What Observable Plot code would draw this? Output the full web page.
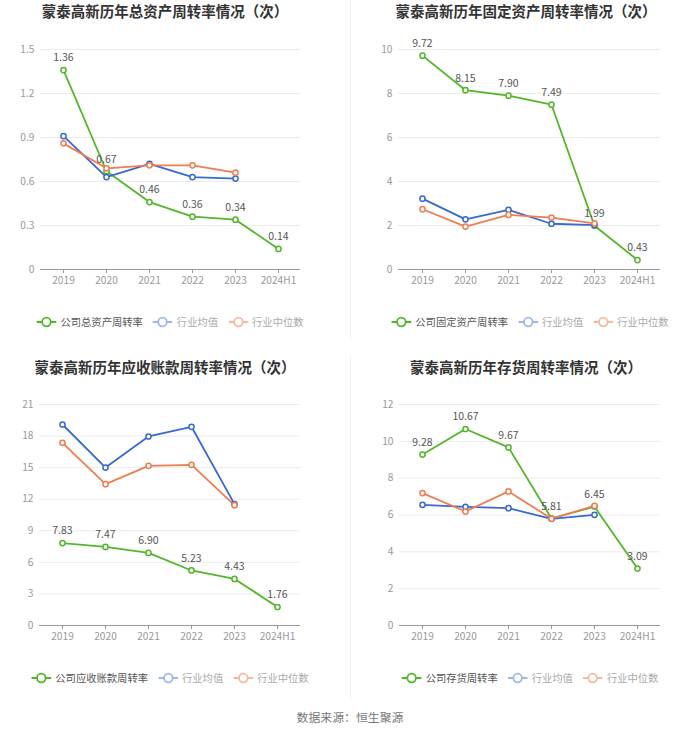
<!DOCTYPE html>
<html><head><meta charset="utf-8">
<script src="https://cdn.jsdelivr.net/npm/d3@7"></script>
<script src="https://cdn.jsdelivr.net/npm/@observablehq/plot@0.6"></script>
<style>
body{margin:0;background:#fff;font-family:"Noto Sans CJK SC","Noto Sans",sans-serif;}
#root{position:relative;width:700px;height:734px;overflow:hidden;}
.svgwrap{position:absolute;}
.title{position:absolute;font-weight:bold;font-size:14.5px;color:#333;white-space:nowrap;transform:translate(-50%,-50%);line-height:1;}
.legend{position:absolute;display:flex;align-items:center;white-space:nowrap;transform:translate(-50%,-50%);font-size:10.3px;line-height:1;}
.item{display:flex;align-items:center;margin-right:10px;}
.item:last-child{margin-right:0;}
.item svg{margin-right:4px;}
.sep{position:absolute;left:350px;width:1px;background:#f2f2f2;}
.source{position:absolute;left:350px;top:717px;transform:translate(-50%,-50%);font-size:11.9px;color:#777;white-space:nowrap;line-height:1;}
</style></head>
<body><div id="root"></div>
<script>
const categories = ["2019","2020","2021","2022","2023","2024H1"];

// Panel 1: 总资产周转率
const title1 = "蒙泰高新历年总资产周转率情况（次）";
const company1Name = "公司总资产周转率";
const company1 = [1.36, 0.67, 0.46, 0.36, 0.34, 0.14];
const avg1 = [0.91, 0.63, 0.72, 0.63, 0.62];
const median1 = [0.86, 0.69, 0.71, 0.71, 0.66];
const yTicks1 = [0, 0.3, 0.6, 0.9, 1.2, 1.5];

// Panel 2: 固定资产周转率
const title2 = "蒙泰高新历年固定资产周转率情况（次）";
const company2Name = "公司固定资产周转率";
const company2 = [9.72, 8.15, 7.90, 7.49, 1.99, 0.43];
const avg2 = [3.22, 2.28, 2.71, 2.08, 2.02];
const median2 = [2.74, 1.95, 2.48, 2.36, 2.10];
const yTicks2 = [0, 2, 4, 6, 8, 10];

// Panel 3: 应收账款周转率
const title3 = "蒙泰高新历年应收账款周转率情况（次）";
const company3Name = "公司应收账款周转率";
const company3 = [7.83, 7.47, 6.90, 5.23, 4.43, 1.76];
const avg3 = [19.10, 15.01, 17.96, 18.88, 11.53];
const median3 = [17.36, 13.43, 15.17, 15.27, 11.43];
const yTicks3 = [0, 3, 6, 9, 12, 15, 18, 21];

// Panel 4: 存货周转率
const title4 = "蒙泰高新历年存货周转率情况（次）";
const company4Name = "公司存货周转率";
const company4 = [9.28, 10.67, 9.67, 5.81, 6.45, 3.09];
const avg4 = [6.55, 6.44, 6.37, 5.79, 6.01];
const median4 = [7.19, 6.19, 7.28, 5.80, 6.50];
const yTicks4 = [0, 2, 4, 6, 8, 10, 12];

const avgName = "行业均值";
const medianName = "行业中位数";
const sourceText = "数据来源：恒生聚源";

const GREEN = "#52b62a", BLUE = "#3669d4", ORANGE = "#ef7d50";
const FONT = '"Noto Sans CJK SC","Noto Sans",sans-serif';

const root = document.getElementById("root");

function rows(vals){ return vals.map((v,i)=>({cat:categories[i], v})); }

function panel(cfg){
  const comp = rows(cfg.company), avg = rows(cfg.avg), med = rows(cfg.median);
  const yMax = cfg.ticks[cfg.ticks.length-1];
  const chart = Plot.plot({
    width: 350, height: 300,
    marginLeft: cfg.ml, marginRight: cfg.mr, marginTop: cfg.mt, marginBottom: cfg.mb,
    style: {fontFamily: FONT, background: "transparent", overflow: "visible"},
    x: {type: "point", domain: categories, padding: 0.5, axis: null, label: null},
    y: {domain: [0, yMax], axis: null, label: null},
    marks: [
      Plot.gridY(cfg.ticks.slice(1), {stroke: "#ebebeb", strokeOpacity: 1}),
      Plot.axisY(cfg.ticks, {tickSize: 0, tickPadding: 6, fontSize: 10.2, fill: "#999", label: null, tickFormat: d => String(d)}),
      Plot.ruleY([0], {stroke: "#999", strokeWidth: 1}),
      Plot.axisX({tickSize: 4, tickPadding: 3, fontSize: 10.2, fill: "#999", stroke: "#999", label: null}),
      Plot.line(comp, {x: "cat", y: "v", stroke: GREEN, strokeWidth: 1.8}),
      Plot.line(avg, {x: "cat", y: "v", stroke: BLUE, strokeWidth: 1.8}),
      Plot.line(med, {x: "cat", y: "v", stroke: ORANGE, strokeWidth: 1.8}),
      Plot.dot(comp, {x: "cat", y: "v", r: 2.6, fill: "white", stroke: GREEN, strokeWidth: 1.5}),
      Plot.dot(avg, {x: "cat", y: "v", r: 2.6, fill: "white", stroke: BLUE, strokeWidth: 1.5}),
      Plot.dot(med, {x: "cat", y: "v", r: 2.6, fill: "white", stroke: ORANGE, strokeWidth: 1.5}),
      Plot.text(comp, {x: "cat", y: "v", text: d => d.v.toFixed(2), dy: -12, fontSize: 10.5, fill: "#555"})
    ]
  });
  const wrap = document.createElement("div");
  wrap.className = "svgwrap";
  wrap.style.left = cfg.left + "px"; wrap.style.top = cfg.top + "px";
  wrap.appendChild(chart);
  root.appendChild(wrap);

  const t = document.createElement("div");
  t.className = "title"; t.textContent = cfg.title;
  t.style.left = cfg.tx + "px"; t.style.top = cfg.ty + "px";
  root.appendChild(t);

  const lg = document.createElement("div");
  lg.className = "legend";
  lg.style.left = cfg.lx + "px"; lg.style.top = cfg.ly + "px";
  const items = [[cfg.name, GREEN, "#555"], [avgName, "#9fb7ee", "#aaa"], [medianName, "#f6b9a0", "#aaa"]];
  for (const [name, col, tc] of items){
    const it = document.createElement("div"); it.className = "item";
    it.innerHTML = `<svg width="20" height="12"><line x1="0" y1="6" x2="20" y2="6" stroke="${col}" stroke-width="1.8"/><circle cx="10" cy="6" r="4.3" fill="white" stroke="${col}" stroke-width="1.8"/></svg><span style="color:${tc}">${name}</span>`;
    lg.appendChild(it);
  }
  root.appendChild(lg);
}

panel({title: title1, name: company1Name, company: company1, avg: avg1, median: median1, ticks: yTicks1,
  left: 0, top: 0, ml: 40, mr: 50, mt: 49, mb: 31, tx: 165, ty: 11, lx: 170, ly: 322});
panel({title: title2, name: company2Name, company: company2, avg: avg2, median: median2, ticks: yTicks2,
  left: 350, top: 0, ml: 48, mr: 40, mt: 49, mb: 31, tx: 526, ty: 11, lx: 530, ly: 322});
panel({title: title3, name: company3Name, company: company3, avg: avg3, median: median3, ticks: yTicks3,
  left: 0, top: 350, ml: 39, mr: 50, mt: 54, mb: 25, tx: 165, ty: 367, lx: 170, ly: 678});
panel({title: title4, name: company4Name, company: company4, avg: avg4, median: median4, ticks: yTicks4,
  left: 350, top: 350, ml: 49, mr: 40, mt: 54, mb: 25, tx: 526, ty: 367, lx: 530, ly: 678});

const s1 = document.createElement("div"); s1.className = "sep"; s1.style.top = "0px"; s1.style.height = "340px"; root.appendChild(s1);
const s2 = document.createElement("div"); s2.className = "sep"; s2.style.top = "355px"; s2.style.height = "345px"; root.appendChild(s2);
const src = document.createElement("div"); src.className = "source"; src.textContent = sourceText; root.appendChild(src);
</script>
</body></html>
